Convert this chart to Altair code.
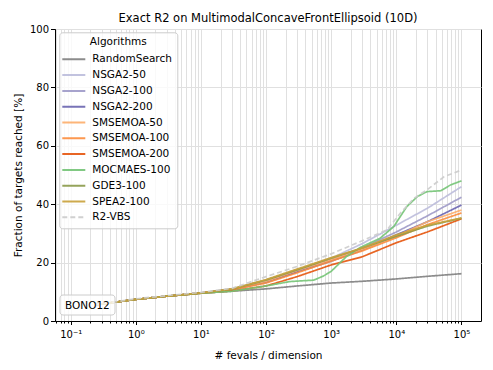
import altair as alt
import pandas as pd

ALGS = ["RandomSearch", "NSGA2-50", "NSGA2-100", "NSGA2-200", "SMSEMOA-50",
        "SMSEMOA-100", "SMSEMOA-200", "MOCMAES-100", "GDE3-100", "SPEA2-100", "R2-VBS"]
COLORS = ["#808080", "#bcbddc", "#9e9ac8", "#6a64b0", "#fdae6b",
          "#fd8d3c", "#e6550d", "#74c476", "#8a9a4a", "#c9a13a", "#cccccc"]
DASHES = [[1, 0]] * 10 + [[5, 3]]

X_BASE = [0.25, 0.5, 1, 3, 10, 30, 100, 300, 1000, 3000, 10000, 30000, 100000]
RANDOMSEARCH = [5.6, 6.5, 7.4, 8.5, 9.5, 10.2, 11.0, 12.0, 13.0, 13.6, 14.4, 15.3, 16.2]
NSGA2_50 = [5.6, 6.5, 7.4, 8.5, 9.6, 11.0, 14.0, 17.5, 21.5, 26.5, 32.8, 38.6, 46.0]
NSGA2_100 = [5.6, 6.5, 7.4, 8.5, 9.6, 10.9, 13.6, 17.2, 21.0, 25.0, 30.5, 36.0, 42.4]
NSGA2_200 = [5.6, 6.5, 7.4, 8.5, 9.6, 10.8, 13.2, 16.8, 20.5, 24.3, 29.5, 34.0, 39.7]
SMSEMOA_50 = [5.6, 6.5, 7.4, 8.5, 9.6, 10.9, 13.6, 17.3, 21.0, 24.5, 29.0, 34.0, 38.0]
SMSEMOA_100 = [5.6, 6.5, 7.4, 8.5, 9.6, 10.7, 13.0, 16.5, 20.5, 24.0, 28.5, 33.0, 37.0]
SMSEMOA_200 = [5.6, 6.5, 7.4, 8.5, 9.5, 10.3, 12.0, 15.2, 19.2, 22.0, 26.8, 30.5, 35.0]
GDE3_100 = [5.6, 6.5, 7.4, 8.5, 9.6, 10.9, 14.0, 17.5, 21.5, 25.0, 29.0, 32.5, 35.2]
SPEA2_100 = [5.6, 6.5, 7.4, 8.5, 9.6, 11.0, 14.2, 17.8, 21.7, 25.0, 29.5, 32.8, 35.3]

MOCMAES_X = [0.25, 0.5, 1, 3, 10, 30, 100, 230, 540, 760, 1000, 1700, 2800, 5600,
             9100, 14500, 21000, 29500, 48000, 68000, 100000]
MOCMAES_Y = [5.6, 6.5, 7.4, 8.5, 9.5, 10.2, 12.0, 13.5, 14.0, 15.4, 17.0, 22.0, 25.2, 28.3,
             32.3, 39.2, 42.6, 44.3, 44.6, 46.6, 48.0]

VBS_X = [0.25, 0.5, 1, 3, 10, 30, 100, 300, 1000, 3000, 7200, 11500, 18600, 29500, 54000, 100000]
VBS_Y = [5.7, 6.6, 7.6, 8.7, 9.8, 11.2, 15.2, 18.7, 23.0, 27.5, 31.2, 36.9, 42.0, 44.9, 49.4, 51.7]

SERIES = {
    "RandomSearch": (X_BASE, RANDOMSEARCH),
    "NSGA2-50": (X_BASE, NSGA2_50),
    "NSGA2-100": (X_BASE, NSGA2_100),
    "NSGA2-200": (X_BASE, NSGA2_200),
    "SMSEMOA-50": (X_BASE, SMSEMOA_50),
    "SMSEMOA-100": (X_BASE, SMSEMOA_100),
    "SMSEMOA-200": (X_BASE, SMSEMOA_200),
    "MOCMAES-100": (MOCMAES_X, MOCMAES_Y),
    "GDE3-100": (X_BASE, GDE3_100),
    "SPEA2-100": (X_BASE, SPEA2_100),
    "R2-VBS": (VBS_X, VBS_Y),
}

rows = []
for name, (xs, ys) in SERIES.items():
    for i, (xv, yv) in enumerate(zip(xs, ys)):
        rows.append({"alg": name, "x": xv, "y": yv, "i": i})
df = pd.DataFrame(rows)

X_DOMAIN = [0.0575, 199500]
x_ticks = [k * 10.0 ** e for e in range(-2, 6) for k in range(1, 10)
           if X_DOMAIN[0] <= k * 10.0 ** e <= X_DOMAIN[1]]
is_major = "abs(log(datum.value)/LN10 - round(log(datum.value)/LN10)) < 0.001"
label_expr = (is_major + " ? ['10\u207b\u00b9','10\u2070','10\u00b9','10\u00b2','10\u00b3',"
              "'10\u2074','10\u2075'][round(log(datum.value)/LN10)+1] : ''")

lines = alt.Chart(df).mark_line(strokeWidth=1.7, opacity=0.9).encode(
    x=alt.X("x:Q", scale=alt.Scale(type="log", domain=X_DOMAIN, nice=False),
            axis=alt.Axis(title="# fevals / dimension", values=x_ticks, labelExpr=label_expr,
                          tickSize={"condition": {"test": is_major, "value": 3.5}, "value": 2},
                          labelOverlap=False, labelFlush=False, labelPadding=5,
                          titlePadding=11)),
    y=alt.Y("y:Q", scale=alt.Scale(domain=[0, 100], nice=False),
            axis=alt.Axis(title="Fraction of targets reached [%]", values=[0, 20, 40, 60, 80, 100],
                          tickSize=4.5, labelPadding=2, titlePadding=6)),
    color=alt.Color("alg:N", scale=alt.Scale(domain=ALGS, range=COLORS), sort=ALGS,
                    title="Algorithms",
                    legend=alt.Legend(orient="none", legendX=4.3, legendY=3.3,
                                      symbolType="M-1.4,0L1.4,0", symbolSize=270,
                                      symbolStrokeWidth=2, symbolFillColor="transparent",
                                      labelOffset=9, rowPadding=0.8, padding=5,
                                      fillColor="rgba(255,255,255,0.8)", strokeColor="#cccccc",
                                      cornerRadius=3, titleAnchor="middle", titleAlign="center",
                                      titleFontWeight="normal", titleFontSize=10.5,
                                      labelFontSize=10.5, titlePadding=2)),
    strokeDash=alt.StrokeDash("alg:N", scale=alt.Scale(domain=ALGS, range=DASHES), sort=ALGS,
                              title="Algorithms"),
    order="i:Q",
)

box_df = pd.DataFrame({"label": ["BONO12"]})
box = alt.Chart(box_df).mark_rect(fill="white", fillOpacity=0.8, stroke="#cccccc",
                                  strokeWidth=1, cornerRadius=3).encode(
    x=alt.value(5), x2=alt.value(60), y=alt.value(266), y2=alt.value(286))
txt = alt.Chart(box_df).mark_text(align="left", baseline="middle", fontSize=10.5,
                                  color="black").encode(
    x=alt.value(10), y=alt.value(276.5), text="label:N")

chart = alt.layer(lines, box, txt).properties(
    width=426, height=292,
    title=alt.TitleParams("Exact R2 on MultimodalConcaveFrontEllipsoid (10D)", fontSize=11.5,
                          fontWeight="normal", anchor="middle", offset=0, color="black"),
    padding={"left": 47, "top": 21, "right": 4, "bottom": 41},
    autosize=alt.AutoSizeParams(type="none"),
).configure(font="DejaVu Sans").configure_view(stroke="black", strokeWidth=1).configure_axis(
    gridColor="#e0e0e0", gridWidth=1, domainColor="black", tickColor="black",
    labelColor="black", titleColor="black", labelFontSize=10, titleFontSize=10.5,
    titleFontWeight="normal", labelFont="DejaVu Sans", titleFont="DejaVu Sans",
).configure_legend(labelColor="black", titleColor="black")

chart.save("out.html", embed_options={"renderer": "svg", "actions": False})
